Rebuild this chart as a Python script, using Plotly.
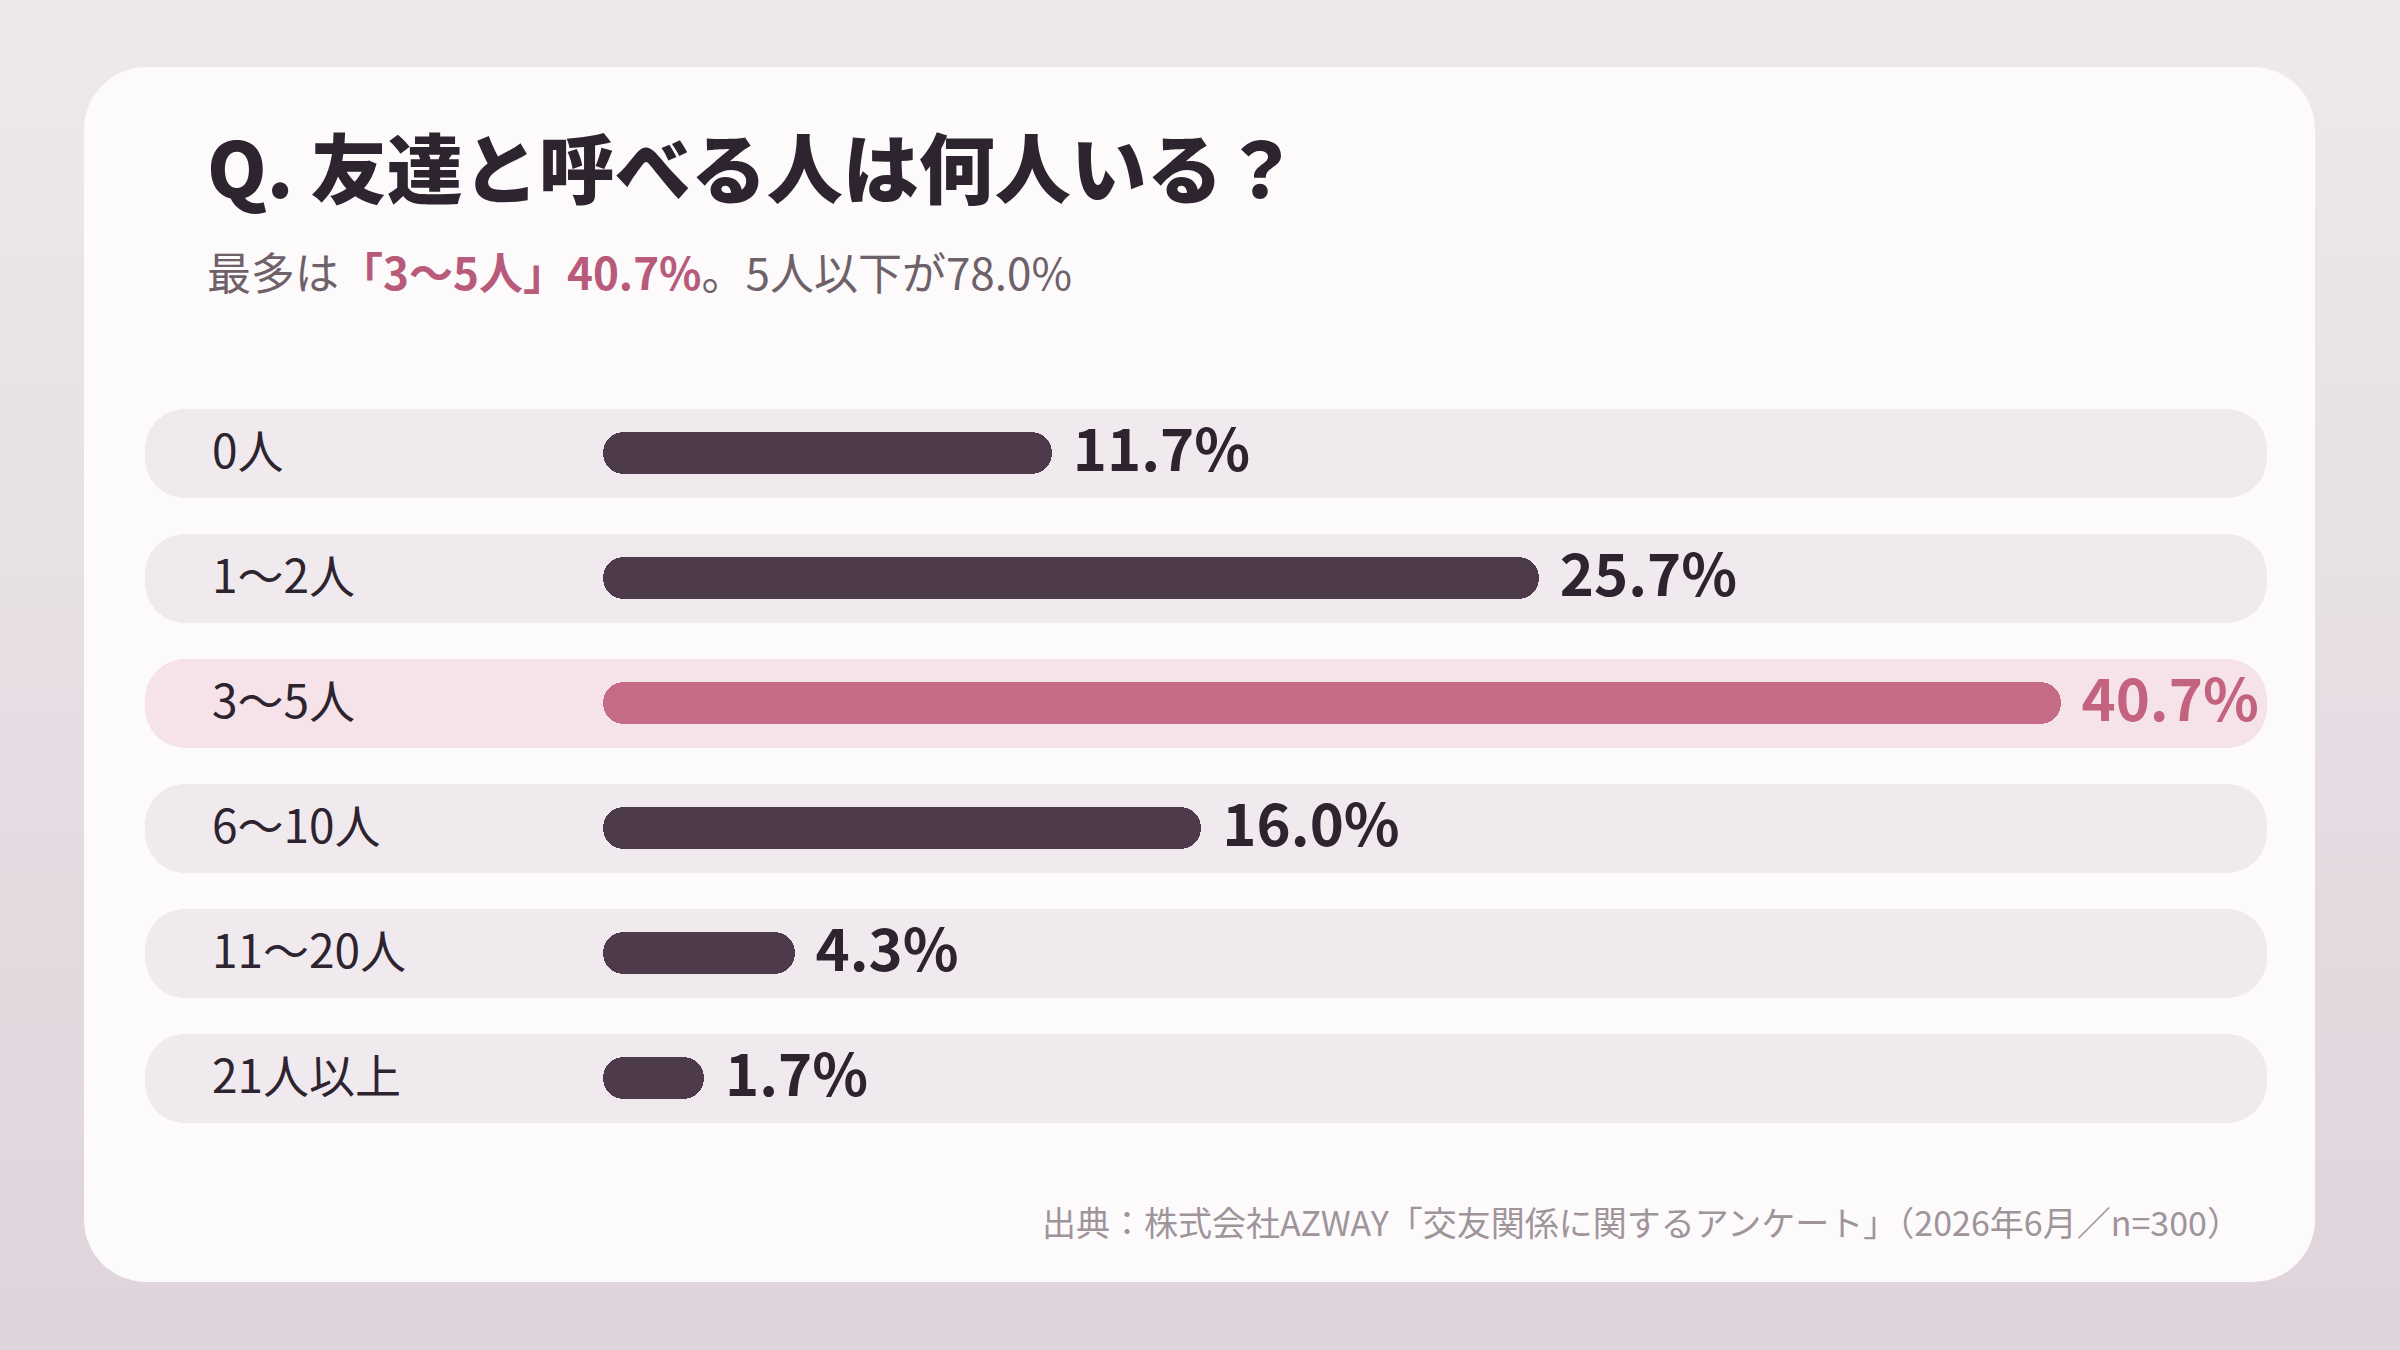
import math
import plotly.graph_objects as go

# data
categories = ["0人", "1〜2人", "3〜5人", "6〜10人", "11〜20人", "21人以上"]
shares = [11.7, 25.7, 40.7, 16.0, 4.3, 1.7]
value_labels = ["11.7%", "25.7%", "40.7%", "16.0%", "4.3%", "1.7%"]

title_text = "Q. 友達と呼べる人は何人いる？"
sub_lead = "最多は"
sub_hi = "「3〜5人」40.7%"
sub_tail = "。5人以下が78.0%"
source_text = "出典：株式会社AZWAY「交友関係に関するアンケート」（2026年6月／n=300）"

W, H = 2400, 1350
FONT = "Noto Sans CJK JP"
DARK = "#2d2430"
BAR_DARK = "#4d3a4b"
BAR_HI = "#c66b86"
TEXT_HI = "#c4637f"
TRACK = "#f0eaee"
TRACK_HI = "#f6e3e9"

# bar geometry (px): origin of bars and px per percent point
ORIGIN = 603
PX_PER = 34.78
CAP = 42 / PX_PER  # rounded cap adds this length
X0 = -ORIGIN / PX_PER
X1 = X0 + W / PX_PER
TRACK_L = (145 - ORIGIN) / PX_PER
TRACK_R = (2267 - ORIGIN) / PX_PER
LABEL_X = (212 - ORIGIN) / PX_PER
TEXT_DY = 0.03  # nudge text down a touch to sit on the row centre

hi = shares.index(max(shares))
rows = list(range(len(categories)))

fig = go.Figure()

# background gradient (pixel-space subplot)
fig.add_trace(go.Scatter(
    x=[0, W, W, 0, 0], y=[0, 0, H, H, 0], mode="lines", fill="toself",
    line=dict(width=0), fillgradient=dict(type="vertical", colorscale=[[0, "#dfd4db"], [1, "#ede9ec"]]),
    hoverinfo="skip", showlegend=False))

# card with rounded corners
def rounded_rect(l, b, r, t, rad, n=16):
    xs, ys = [], []
    corners = [(r - rad, t - rad, 0), (l + rad, t - rad, 90), (l + rad, b + rad, 180), (r - rad, b + rad, 270)]
    for cx, cy, a0 in corners:
        for k in range(n + 1):
            a = math.radians(a0 + 90 * k / n)
            xs.append(cx + rad * math.cos(a))
            ys.append(cy + rad * math.sin(a))
    xs.append(xs[0]); ys.append(ys[0])
    return xs, ys

cx, cy = rounded_rect(84, H - 1282, 2315, H - 67, 62)
fig.add_trace(go.Scatter(x=cx, y=cy, mode="lines", fill="toself", fillcolor="#fcfafb",
                         line=dict(width=0), hoverinfo="skip", showlegend=False))

# tracks
fig.add_trace(go.Bar(
    y=rows, x=[TRACK_R - TRACK_L] * len(categories), base=TRACK_L, orientation="h",
    width=0.712, marker=dict(color=[TRACK_HI if i == hi else TRACK for i in rows],
                             cornerradius=40, line=dict(width=0)),
    xaxis="x2", yaxis="y2", hoverinfo="skip", showlegend=False))

# bars
fig.add_trace(go.Bar(
    y=rows, x=[v + CAP for v in shares], base=0, orientation="h", width=0.336,
    marker=dict(color=[BAR_HI if i == hi else BAR_DARK for i in rows],
                cornerradius="50%", line=dict(width=0)),
    xaxis="x2", yaxis="y2", hoverinfo="skip", showlegend=False))

# row labels
fig.add_trace(go.Scatter(
    y=[r + TEXT_DY for r in rows], x=[LABEL_X] * len(categories), mode="text", text=categories,
    textposition="middle right", textfont=dict(family=FONT, size=46, color=DARK),
    xaxis="x2", yaxis="y2", hoverinfo="skip", showlegend=False, cliponaxis=False))

# value labels
fig.add_trace(go.Scatter(
    y=[r + TEXT_DY for r in rows], x=[v + CAP + 0.6 for v in shares], mode="text", text=value_labels,
    textposition="middle right",
    textfont=dict(family=FONT, size=58, weight=700,
                  color=[TEXT_HI if i == hi else DARK for i in rows]),
    xaxis="x2", yaxis="y2", hoverinfo="skip", showlegend=False, cliponaxis=False))

axis_off = dict(visible=False, showgrid=False, zeroline=False, fixedrange=True)
row0, pitch = 453, 125
fig.update_layout(
    width=W, height=H, margin=dict(l=0, r=0, t=0, b=0),
    paper_bgcolor="#e6dfe4", plot_bgcolor="rgba(0,0,0,0)",
    barmode="overlay", bargap=0,
    font=dict(family=FONT),
    xaxis=dict(range=[0, W], domain=[0, 1], **axis_off),
    yaxis=dict(range=[0, H], domain=[0, 1], **axis_off),
    xaxis2=dict(range=[X0, X1], overlaying="x", **axis_off),
    yaxis2=dict(range=[(H - row0) / pitch, -row0 / pitch], overlaying="y", **axis_off),
    annotations=[
        dict(text=title_text, x=205 / W, y=1 - 165 / H, xref="paper", yref="paper",
             xanchor="left", yanchor="middle", showarrow=False,
             font=dict(family=FONT, size=76, weight=900, color=DARK)),
        dict(text=f"{sub_lead}<span style='color:#b85a7a'><b>{sub_hi}</b></span>{sub_tail}",
             x=205 / W, y=1 - 271 / H, xref="paper", yref="paper",
             xanchor="left", yanchor="middle", showarrow=False,
             font=dict(family=FONT, size=44, color="#6f6169")),
        dict(text=source_text, x=2243 / W, y=1 - 1221 / H, xref="paper", yref="paper",
             xanchor="right", yanchor="middle", showarrow=False,
             font=dict(family=FONT, size=34, color="#a0949b")),
    ],
)

fig.write_html("out.html", config={"displayModeBar": False},
               post_script="document.body.style.margin='0';")
